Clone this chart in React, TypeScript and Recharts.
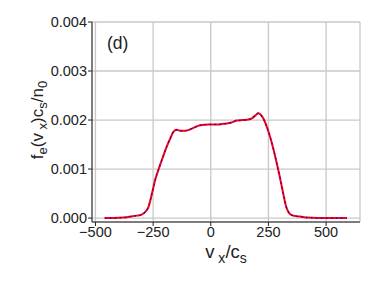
import React from "react";
import {
  LineChart,
  Line,
  XAxis,
  YAxis,
  CartesianGrid,
  ReferenceArea,
  ReferenceDot,
} from "recharts";

// velocity (v_x / c_s)
const vx = [
  -460, -420, -380, -349, -320, -300, -285, -270, -255, -241, -220, -205, -191, -175,
  -162, -148, -130, -111, -95, -75, -55, -39, -10, 26, 50, 69, 90, 113, 140, 163, 180,
  195, 206, 218, 228, 243, 257, 272, 286, 298, 308, 318, 327, 340, 351, 370, 387, 420,
  460, 520, 590,
];

// f_e(v_x) c_s / n_0
const fe = [
  0, 0, 0.00001, 0.00003, 0.00005, 0.00007, 0.00012, 0.00023, 0.0005, 0.00078, 0.00108,
  0.00128, 0.00146, 0.00163, 0.00176, 0.0018, 0.00178, 0.00178, 0.0018, 0.00184, 0.00188,
  0.0019, 0.00191, 0.00191, 0.00192, 0.00193, 0.00195, 0.00199, 0.002, 0.00201, 0.00204,
  0.0021, 0.00214, 0.0021, 0.00203, 0.00186, 0.00166, 0.0014, 0.00112, 0.00087, 0.00064,
  0.00041, 0.00023, 0.0001, 0.00006, 0.00004, 0.00003, 0.00001, 0, 0, 0,
];

const xTicks = [-500, -250, 0, 250, 500];
const yTicks = [0, 0.001, 0.002, 0.003, 0.004];

const data = vx.map((v, i) => ({ v, a: fe[i], b: fe[i] }));

const FONT = '"Liberation Sans", Arial, sans-serif';
const INK = "#222";

const YLabel = ({ viewBox }: any) => {
  const cx = viewBox.x + 43;
  const cy = viewBox.y + viewBox.height / 2 - 2;
  return (
    <text
      transform={`translate(${cx},${cy}) rotate(-90)`}
      textAnchor="middle"
      fontSize={17}
      fontFamily={FONT}
      fill={INK}
    >
      f<tspan fontSize={13} dy={4}>e</tspan>
      <tspan dy={-4}>(v</tspan>
      <tspan fontSize={13} dy={4}> x</tspan>
      <tspan dy={-4}>)c</tspan>
      <tspan fontSize={13} dy={4}>s</tspan>
      <tspan dy={-4}>/n</tspan>
      <tspan fontSize={13} dy={4}>0</tspan>
    </text>
  );
};

const XLabel = ({ viewBox }: any) => {
  const cx = viewBox.x + viewBox.width / 2;
  const cy = viewBox.y + 36;
  return (
    <text x={cx} y={cy} textAnchor="middle" fontSize={18.5} fontFamily={FONT} fill={INK}>
      v<tspan fontSize={14} dy={4.5}> x</tspan>
      <tspan dy={-4.5}>/c</tspan>
      <tspan fontSize={14} dy={4.5}>s</tspan>
    </text>
  );
};

export default function App() {
  return (
    <div style={{ position: "absolute", left: 0, top: 0, background: "#fff" }}>
      <LineChart
        width={382}
        height={287}
        data={data}
        margin={{ top: 22, right: 22, bottom: 0, left: 0 }}
      >
        <CartesianGrid stroke="#c8c8c8" strokeWidth={1.3} />
        <XAxis
          dataKey="v"
          type="number"
          domain={[-515, 647]}
          ticks={xTicks}
          allowDataOverflow
          height={65}
          tickSize={4}
          tickMargin={1}
          stroke={INK}
          tick={{ fontSize: 14.5, fontFamily: FONT, fill: INK }}
          tickFormatter={(t: number) => (t < 0 ? "\u2212" + Math.abs(t) : String(t))}
          label={<XLabel />}
        />
        <YAxis
          type="number"
          domain={[-0.00008, 0.004]}
          ticks={yTicks}
          allowDataOverflow
          width={92}
          tickSize={4}
          tickMargin={1}
          stroke={INK}
          tick={{ fontSize: 14.5, fontFamily: FONT, fill: INK }}
          tickFormatter={(t: number) => t.toFixed(3)}
          label={<YLabel />}
        />
        <ReferenceArea fill="none" stroke={INK} strokeWidth={1} ifOverflow="visible" />
        <Line
          dataKey="a"
          type="monotone"
          stroke="#ff0000"
          strokeWidth={2}
          dot={false}
          isAnimationActive={false}
        />
        <Line
          dataKey="b"
          type="monotone"
          stroke="#0000ff"
          strokeWidth={1.2}
          strokeDasharray="1.5 3.5"
          dot={false}
          isAnimationActive={false}
        />
        <ReferenceDot
          x={-404}
          y={0.00357}
          r={0}
          fill="none"
          stroke="none"
          label={{ value: "(d)", position: "center", fontSize: 17.5, fontFamily: FONT, fill: INK }}
        />
      </LineChart>
    </div>
  );
}
